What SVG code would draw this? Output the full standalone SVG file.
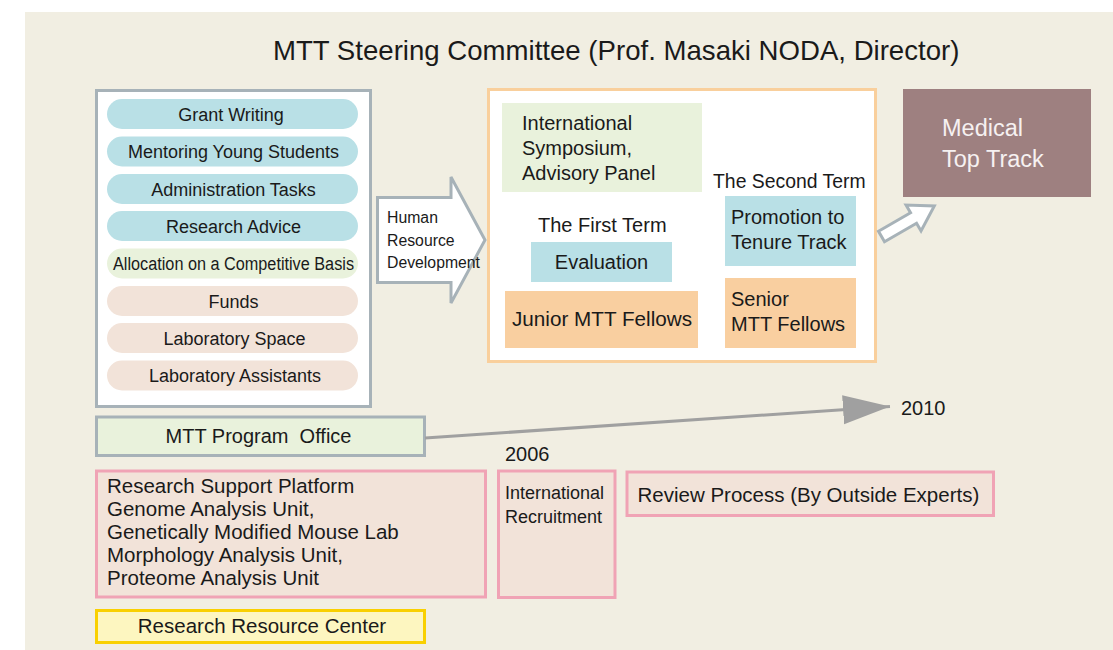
<svg xmlns="http://www.w3.org/2000/svg" width="1113" height="650" viewBox="0 0 1113 650">
<style>
text{font-family:"Liberation Sans",Arial,sans-serif;fill:#1a1a1a}
.pill{font-size:18px;text-anchor:middle}
.blue{fill:#b9e0e6}
.green{fill:#e9f2dc}
.pink{fill:#f2e3d9}
.orange{fill:#f9cfa0}
.gbox{fill:#ffffff;stroke:#a7b2b8;stroke-width:3}
.pbox{fill:#f2e3d9;stroke:#f0a3b5;stroke-width:3}
.t20{font-size:20px}
.hollow{fill:#ffffff;stroke:#a7b2b8;stroke-width:3;stroke-linejoin:miter}
</style>
<defs>
<marker id="tri" markerUnits="userSpaceOnUse" markerWidth="48" markerHeight="30" refX="47" refY="14.5" orient="auto">
<path d="M0,0 L47,14.5 L0,29 Z" fill="#a0a0a0"/>
</marker>
</defs>
<rect x="0" y="0" width="1113" height="650" fill="#ffffff"/>
<rect x="25" y="12" width="1088" height="638" fill="#f1eee2"/>
<text id="title" x="273" y="59.5" style="font-size:27.6px">MTT Steering Committee (Prof. Masaki NODA, Director)</text>

<g id="support-panel">
<rect class="gbox" x="96.5" y="90.5" width="274" height="316"/>
<rect class="blue" x="107" y="99" width="251" height="30" rx="15"/>
<text class="pill" x="231" y="120.5">Grant Writing</text>
<rect class="blue" x="107" y="136.5" width="251" height="30" rx="15"/>
<text class="pill" x="233.5" y="158">Mentoring Young Students</text>
<rect class="blue" x="107" y="174" width="251" height="30" rx="15"/>
<text class="pill" x="233.5" y="195.5">Administration Tasks</text>
<rect class="blue" x="107" y="211" width="251" height="30" rx="15"/>
<text class="pill" x="233.5" y="232.5">Research Advice</text>
<rect class="green" x="107" y="248.5" width="251" height="30" rx="15"/>
<text class="pill" x="233.5" y="270" textLength="241" lengthAdjust="spacingAndGlyphs">Allocation on a Competitive Basis</text>
<rect class="pink" x="107" y="286" width="251" height="30" rx="15"/>
<text class="pill" x="233.5" y="307.5">Funds</text>
<rect class="pink" x="107" y="323" width="251" height="30" rx="15"/>
<text class="pill" x="234.5" y="344.5">Laboratory Space</text>
<rect class="pink" x="107" y="360.5" width="251" height="30" rx="15"/>
<text class="pill" x="235" y="382">Laboratory Assistants</text>
</g>

<g id="hrd-arrow">
<polygon class="hollow" points="377.5,197.5 451,197.5 451,177 485,240 451,303 451,282.5 377.5,282.5"/>
<text x="387" y="223" style="font-size:15.8px">Human</text>
<text x="387" y="245.5" style="font-size:15.8px">Resource</text>
<text x="387" y="268" style="font-size:15.8px" textLength="93" lengthAdjust="spacingAndGlyphs">Development</text>
</g>

<g id="fellows-panel">
<rect x="488.5" y="89.5" width="387" height="272" fill="#ffffff" stroke="#f9cf9c" stroke-width="3"/>
<rect class="green" x="502" y="103" width="200" height="89"/>
<text class="t20" x="522" y="130">International</text>
<text class="t20" x="522" y="155">Symposium,</text>
<text class="t20" x="522" y="180">Advisory Panel</text>
<text class="t20" x="538" y="232">The First Term</text>
<rect class="blue" x="531" y="242" width="141" height="40"/>
<text class="t20" x="601.5" y="269" text-anchor="middle">Evaluation</text>
<rect class="orange" x="505" y="291" width="193" height="57"/>
<text class="t20" x="512" y="326" textLength="180" lengthAdjust="spacingAndGlyphs">Junior MTT Fellows</text>
<text x="713" y="188" style="font-size:19.4px">The Second Term</text>
<rect class="blue" x="725" y="196" width="131" height="70"/>
<text class="t20" x="731" y="224">Promotion to</text>
<text class="t20" x="731" y="249">Tenure Track</text>
<rect class="orange" x="725" y="278" width="131" height="70"/>
<text class="t20" x="731" y="306">Senior</text>
<text class="t20" x="731" y="331">MTT Fellows</text>
</g>

<g id="medical-top-track">
<rect x="903" y="89" width="188" height="108" fill="#9e8080"/>
<text x="942" y="136" style="font-size:23.5px;fill:#f6f1f1">Medical</text>
<text x="942" y="166.5" style="font-size:23.5px;fill:#f6f1f1">Top Track</text>
</g>

<g id="program-office">
<rect x="96.5" y="417" width="328" height="38.5" fill="#e9f2dc" stroke="#a7b2b8" stroke-width="3"/>
<text class="t20" x="258.5" y="443" text-anchor="middle" xml:space="preserve">MTT Program  Office</text>
</g>

<g id="research-support">
<rect class="pbox" x="96.5" y="471" width="389" height="126"/>
<text x="107" y="493" style="font-size:20.5px">Research Support Platform</text>
<text x="107" y="516" style="font-size:20.5px">Genome Analysis Unit,</text>
<text x="107" y="539" style="font-size:20.5px">Genetically Modified Mouse Lab</text>
<text x="107" y="562" style="font-size:20.5px">Morphology Analysis Unit,</text>
<text x="107" y="585" style="font-size:20.5px">Proteome Analysis Unit</text>
</g>

<g id="international-recruitment">
<text class="t20" x="505" y="460.5">2006</text>
<rect class="pbox" x="498.5" y="471" width="116.5" height="126.5"/>
<text x="505" y="498.5" style="font-size:18px">International</text>
<text x="505" y="522.5" style="font-size:18px">Recruitment</text>
</g>

<g id="review-process">
<rect class="pbox" x="627" y="472" width="366.5" height="43.5"/>
<text x="637.5" y="501.5" style="font-size:20.5px">Review Process (By Outside Experts)</text>
</g>

<g id="research-resource-center">
<rect x="96.5" y="610.5" width="328" height="32" fill="#fdf6c0" stroke="#f9d000" stroke-width="3"/>
<text x="262" y="632.5" text-anchor="middle" style="font-size:20.5px">Research Resource Center</text>
</g>

<g id="connectors">
<line x1="425" y1="438" x2="890" y2="406.5" stroke="#a0a0a0" stroke-width="3" marker-end="url(#tri)"/>
<text class="t20" x="901" y="415">2010</text>
<polygon class="hollow" transform="translate(881.5,236.5) rotate(-30)" points="0,-6 37,-6 37,-15 61,0 37,15 37,6 0,6"/>
</g>
</svg>
